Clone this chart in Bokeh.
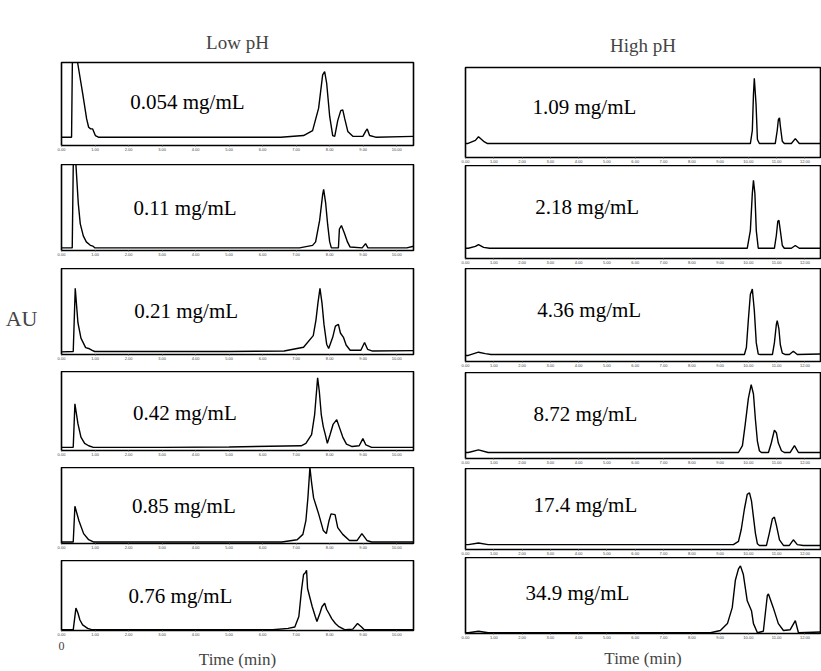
from bokeh.plotting import figure
from bokeh.layouts import column, row
from bokeh.models import (Range1d, FixedTicker, NumeralTickFormatter, CustomJSTickFormatter,
                          LinearAxis)
from bokeh.core.properties import value
from bokeh.embed import file_html
from bokeh.resources import INLINE

# ---------------- data (time in min, absorbance in relative AU) ----------------
LOW_TITLE = "Low pH"
HIGH_TITLE = "High pH"
LOW_LABELS = ["0.054 mg/mL", "0.11 mg/mL", "0.21 mg/mL", "0.42 mg/mL", "0.85 mg/mL", "0.76 mg/mL"]
HIGH_LABELS = ["1.09 mg/mL", "2.18 mg/mL", "4.36 mg/mL", "8.72 mg/mL", "17.4 mg/mL", "34.9 mg/mL"]
LOW_TICKS = [0, 1, 2, 3, 4, 5, 6, 7, 8, 9, 10]
HIGH_TICKS = [0, 1, 2, 3, 4, 5, 6, 7, 8, 9, 10, 11, 12]

t_low1 = [0.0, 0.30, 0.34, 0.48, 0.63, 0.75, 0.81, 0.87, 0.93, 1.01, 1.10, 3.0, 5.0, 6.54, 7.22, 7.49, 7.67,
          7.79, 7.85, 7.91, 8.00, 8.09, 8.15, 8.24, 8.33, 8.39, 8.45, 8.54, 8.69, 8.99, 9.07, 9.12, 9.19, 9.37, 10.5]
au_low1 = [0.10, 0.10, 1.60, 1.00, 0.63, 0.32, 0.22, 0.20, 0.20, 0.12, 0.10, 0.10, 0.10, 0.10, 0.12, 0.18, 0.45,
           0.85, 0.89, 0.75, 0.35, 0.12, 0.11, 0.30, 0.42, 0.43, 0.32, 0.17, 0.11, 0.11, 0.17, 0.20, 0.12, 0.10, 0.11]

t_low2 = [0.0, 0.32, 0.37, 0.43, 0.50, 0.56, 0.65, 0.74, 0.86, 0.94, 1.00, 3.0, 5.0, 7.10, 7.49, 7.58, 7.70,
          7.79, 7.82, 7.88, 7.94, 8.00, 8.05, 8.26, 8.29, 8.35, 8.44, 8.53, 8.61, 8.97, 9.07, 9.14, 10.3, 10.5]
au_low2 = [0.03, 0.03, 1.60, 1.00, 0.55, 0.31, 0.17, 0.10, 0.06, 0.05, 0.03, 0.03, 0.03, 0.03, 0.06, 0.10, 0.35,
           0.65, 0.71, 0.55, 0.30, 0.10, 0.03, 0.03, 0.25, 0.29, 0.20, 0.10, 0.04, 0.03, 0.08, 0.03, 0.03, 0.05]

t_low3 = [0.0, 0.35, 0.41, 0.49, 0.58, 0.72, 0.81, 0.90, 0.99, 3.0, 5.0, 6.64, 7.22, 7.51, 7.59, 7.65, 7.71,
          7.77, 7.83, 7.91, 7.97, 8.09, 8.17, 8.26, 8.32, 8.41, 8.49, 8.61, 8.93, 9.04, 9.13, 9.28, 10.5]
au_low3 = [0.03, 0.035, 0.77, 0.37, 0.19, 0.08, 0.07, 0.05, 0.035, 0.035, 0.035, 0.04, 0.085, 0.22, 0.40, 0.60, 0.77,
           0.60, 0.35, 0.12, 0.07, 0.20, 0.33, 0.35, 0.25, 0.20, 0.11, 0.05, 0.05, 0.14, 0.06, 0.04, 0.045]

t_low4 = [0.0, 0.35, 0.40, 0.49, 0.58, 0.69, 0.81, 0.95, 3.0, 5.0, 7.15, 7.29, 7.46, 7.55, 7.64, 7.69, 7.75,
          7.81, 7.87, 7.93, 8.01, 8.10, 8.21, 8.30, 8.39, 8.50, 8.67, 8.88, 8.99, 9.08, 9.25, 10.5]
au_low4 = [0.04, 0.04, 0.59, 0.34, 0.17, 0.09, 0.06, 0.04, 0.04, 0.045, 0.06, 0.09, 0.20, 0.45, 0.92, 0.75, 0.45,
           0.30, 0.20, 0.09, 0.20, 0.33, 0.39, 0.28, 0.17, 0.08, 0.05, 0.06, 0.15, 0.07, 0.04, 0.04]

t_low5 = [0.0, 0.35, 0.40, 0.52, 0.66, 0.81, 0.95, 3.0, 5.0, 6.57, 7.03, 7.20, 7.29, 7.35, 7.41, 7.46, 7.52,
          7.67, 7.81, 7.90, 7.98, 8.04, 8.16, 8.24, 8.39, 8.59, 8.82, 8.96, 9.11, 9.25, 10.5]
au_low5 = [0.02, 0.02, 0.49, 0.30, 0.13, 0.05, 0.02, 0.02, 0.02, 0.02, 0.05, 0.12, 0.30, 0.60, 1.00, 0.80, 0.60,
           0.39, 0.17, 0.13, 0.30, 0.39, 0.38, 0.21, 0.12, 0.04, 0.04, 0.13, 0.04, 0.02, 0.02]

t_low6 = [0.0, 0.35, 0.43, 0.49, 0.55, 0.63, 0.78, 0.92, 3.0, 5.0, 6.30, 6.76, 6.96, 7.08, 7.16, 7.22, 7.28,
          7.31, 7.34, 7.42, 7.48, 7.57, 7.62, 7.71, 7.77, 7.85, 7.91, 7.97, 8.06, 8.17, 8.26, 8.46, 8.69, 8.83,
          8.95, 9.03, 10.5]
au_low6 = [0.01, 0.01, 0.32, 0.25, 0.15, 0.08, 0.03, 0.01, 0.01, 0.01, 0.01, 0.03, 0.05, 0.20, 0.58, 0.80, 0.83,
           0.86, 0.60, 0.45, 0.34, 0.20, 0.13, 0.25, 0.34, 0.39, 0.30, 0.25, 0.17, 0.10, 0.06, 0.01, 0.02, 0.10,
           0.05, 0.01, 0.01]

t_high1 = [0.0, 0.07, 0.35, 0.46, 0.64, 0.78, 0.95, 3.0, 6.0, 9.0, 10.07, 10.14, 10.18, 10.21, 10.27, 10.32,
           10.39, 10.95, 11.02, 11.06, 11.10, 11.13, 11.20, 11.27, 11.52, 11.66, 11.80, 12.55]
au_high1 = [0.155, 0.155, 0.19, 0.23, 0.18, 0.155, 0.155, 0.155, 0.155, 0.155, 0.155, 0.30, 0.70, 0.88, 0.60, 0.20,
            0.155, 0.155, 0.30, 0.42, 0.44, 0.35, 0.18, 0.155, 0.155, 0.21, 0.155, 0.155]

t_high2 = [0.0, 0.10, 0.35, 0.46, 0.64, 0.85, 3.0, 6.0, 9.0, 9.96, 10.07, 10.14, 10.18, 10.23, 10.28, 10.35,
           10.42, 10.92, 10.99, 11.04, 11.08, 11.13, 11.20, 11.27, 11.52, 11.66, 11.80, 12.55]
au_high2 = [0.11, 0.11, 0.13, 0.15, 0.12, 0.11, 0.11, 0.11, 0.11, 0.11, 0.30, 0.70, 0.84, 0.70, 0.30, 0.11,
            0.11, 0.11, 0.25, 0.40, 0.41, 0.30, 0.14, 0.11, 0.11, 0.14, 0.11, 0.11]

t_high3 = [0.0, 0.10, 0.46, 0.70, 0.90, 3.0, 6.0, 8.4, 9.86, 9.93, 10.00, 10.07, 10.14, 10.21, 10.28, 10.35,
           10.42, 10.85, 10.92, 10.99, 11.02, 11.08, 11.13, 11.20, 11.31, 11.45, 11.59, 11.73, 12.55]
au_high3 = [0.065, 0.065, 0.10, 0.085, 0.075, 0.075, 0.075, 0.075, 0.075, 0.15, 0.45, 0.72, 0.78, 0.55, 0.20, 0.08,
            0.075, 0.075, 0.20, 0.40, 0.44, 0.35, 0.18, 0.09, 0.075, 0.075, 0.11, 0.075, 0.08]

t_high4 = [0.0, 0.10, 0.46, 0.80, 3.0, 6.0, 9.0, 9.65, 9.79, 9.89, 10.00, 10.10, 10.18, 10.25, 10.32, 10.39,
           10.46, 10.71, 10.81, 10.92, 10.99, 11.06, 11.17, 11.27, 11.48, 11.63, 11.77, 12.55]
au_high4 = [0.07, 0.07, 0.10, 0.07, 0.07, 0.07, 0.07, 0.07, 0.15, 0.40, 0.70, 0.86, 0.75, 0.45, 0.20, 0.09,
            0.07, 0.07, 0.18, 0.33, 0.30, 0.18, 0.09, 0.07, 0.07, 0.15, 0.07, 0.07]

t_high5 = [0.0, 0.10, 0.46, 0.80, 3.0, 6.0, 9.0, 9.47, 9.65, 9.75, 9.86, 9.96, 10.04, 10.11, 10.18, 10.25,
           10.32, 10.39, 10.64, 10.74, 10.85, 10.92, 10.99, 11.10, 11.24, 11.45, 11.59, 11.73, 11.94, 12.55]
au_high5 = [0.06, 0.06, 0.08, 0.06, 0.06, 0.06, 0.06, 0.06, 0.10, 0.25, 0.50, 0.68, 0.70, 0.60, 0.40, 0.20,
            0.07, 0.05, 0.05, 0.20, 0.38, 0.40, 0.30, 0.12, 0.05, 0.05, 0.12, 0.06, 0.05, 0.05]

t_high6 = [0.0, 0.10, 0.46, 0.80, 3.0, 6.0, 8.66, 9.01, 9.26, 9.43, 9.54, 9.65, 9.72, 9.82, 9.96, 10.11,
           10.18, 10.32, 10.53, 10.67, 10.71, 10.88, 11.06, 11.24, 11.48, 11.66, 11.77, 12.55]
au_high6 = [0.01, 0.01, 0.03, 0.01, 0.01, 0.01, 0.01, 0.04, 0.13, 0.34, 0.70, 0.85, 0.89, 0.78, 0.43, 0.30,
            0.13, 0.01, 0.03, 0.50, 0.52, 0.34, 0.13, 0.04, 0.05, 0.17, 0.01, 0.02]

LOW_T = [t_low1, t_low2, t_low3, t_low4, t_low5, t_low6]
LOW_AU = [au_low1, au_low2, au_low3, au_low4, au_low5, au_low6]
HIGH_T = [t_high1, t_high2, t_high3, t_high4, t_high5, t_high6]
HIGH_AU = [au_high1, au_high2, au_high3, au_high4, au_high5, au_high6]

# ---------------- style / layout ----------------
FONT = "Liberation Serif"
LOW_XMAX = 10.5
HIGH_XMAX = 12.55

# (border_left, frame_w, border_right, border_top, frame_h, border_bottom)
LOW_GEOM = [(61, 352, 27, 62, 83, 19), (59, 356, 25, 0, 86, 18), (58, 362, 20, 0, 86, 17),
            (59, 364, 17, 0, 79, 17), (58, 365, 17, 0, 76, 17), (58, 365, 17, 0, 71, 40)]
HIGH_GEOM = [(25, 355, 1, 67, 90, 8), (25, 355, 1, 0, 93, 10), (25, 355, 1, 0, 93, 11),
             (25, 355, 1, 0, 86, 10), (25, 355, 1, 0, 82, 7), (25, 355, 1, 0, 76, 38)]
LOW_LABEL_POS = [(2.05, 0.52), (2.15, 0.50), (2.17, 0.51), (2.13, 0.47), (2.10, 0.50), (2.00, 0.50)]
HIGH_LABEL_POS = [(2.37, 0.56), (2.47, 0.55), (2.54, 0.55), (2.40, 0.52), (2.40, 0.55), (2.12, 0.53)]


def make_panel(t, au, label, label_pos, xmax, ticks, geom, title=None, title_standoff=10):
    bl, fw, br, bt, fh, bb = geom
    p = figure(width=bl + fw + br, height=bt + fh + bb,
               x_range=Range1d(0, xmax), y_range=Range1d(0, 1),
               output_backend="svg", toolbar_location=None, y_axis_location=None,
               min_border_left=bl, min_border_right=br, min_border_top=bt, min_border_bottom=bb)
    p.xgrid.visible = False
    p.ygrid.visible = False
    p.outline_line_color = "black"
    p.outline_line_width = 1.6
    p.outline_line_alpha = 1.0
    p.background_fill_color = "white"
    p.border_fill_color = "white"
    ax = p.xaxis[0]
    ax.ticker = FixedTicker(ticks=ticks)
    ax.formatter = NumeralTickFormatter(format="0.00")
    ax.major_label_text_font_size = "4px"
    ax.major_label_text_color = "#444444"
    ax.major_label_standoff = 1
    ax.major_tick_out = 1
    ax.major_tick_in = 0
    ax.major_tick_line_color = "#666666"
    ax.minor_tick_line_color = None
    ax.axis_line_color = None
    if title:
        p.title.text = title
        p.title.align = "center"
        p.title.text_font = FONT
        p.title.text_font_size = "19px"
        p.title.text_font_style = "normal"
        p.title.standoff = title_standoff
    p.line(t, au, line_color="black", line_width=1.4)
    p.text(x=[label_pos[0]], y=[label_pos[1]], text=[label], text_font=value(FONT),
           text_font_size="21px", text_baseline="middle", text_align="left", text_color="black")
    return p


def bottom_axis(p, with_zero):
    ax = LinearAxis(ticker=FixedTicker(ticks=[0] if with_zero else []),
                    axis_label="Time (min)", axis_label_text_font=FONT,
                    axis_label_text_font_size="17px", axis_label_text_font_style="normal",
                    axis_label_standoff=-3 if with_zero else 7, major_label_text_font=FONT,
                    major_label_text_font_size="12px", major_label_standoff=-3,
                    major_tick_line_color=None, minor_tick_line_color=None, axis_line_color=None)
    p.add_layout(ax, "below")


low_figs = []
for i in range(6):
    p = make_panel(LOW_T[i], LOW_AU[i], LOW_LABELS[i], LOW_LABEL_POS[i], LOW_XMAX, LOW_TICKS,
                   LOW_GEOM[i], LOW_TITLE if i == 0 else None, 19)
    if i == 2:
        au_axis = LinearAxis(ticker=FixedTicker(ticks=[0.42]),
                             formatter=CustomJSTickFormatter(code="return 'AU'"),
                             axis_line_color=None, major_tick_line_color=None, minor_tick_line_color=None,
                             major_label_text_font=FONT, major_label_text_font_size="22px",
                             major_label_standoff=18)
        p.add_layout(au_axis, "left")
    if i == 5:
        bottom_axis(p, True)
    low_figs.append(p)

high_figs = []
for i in range(6):
    p = make_panel(HIGH_T[i], HIGH_AU[i], HIGH_LABELS[i], HIGH_LABEL_POS[i], HIGH_XMAX, HIGH_TICKS,
                   HIGH_GEOM[i], HIGH_TITLE if i == 0 else None, 24)
    if i == 5:
        bottom_axis(p, False)
    high_figs.append(p)

layout = row(column(*low_figs, spacing=0), column(*high_figs, spacing=0), spacing=0)

open("out.html", "w").write(file_html(layout, INLINE))
